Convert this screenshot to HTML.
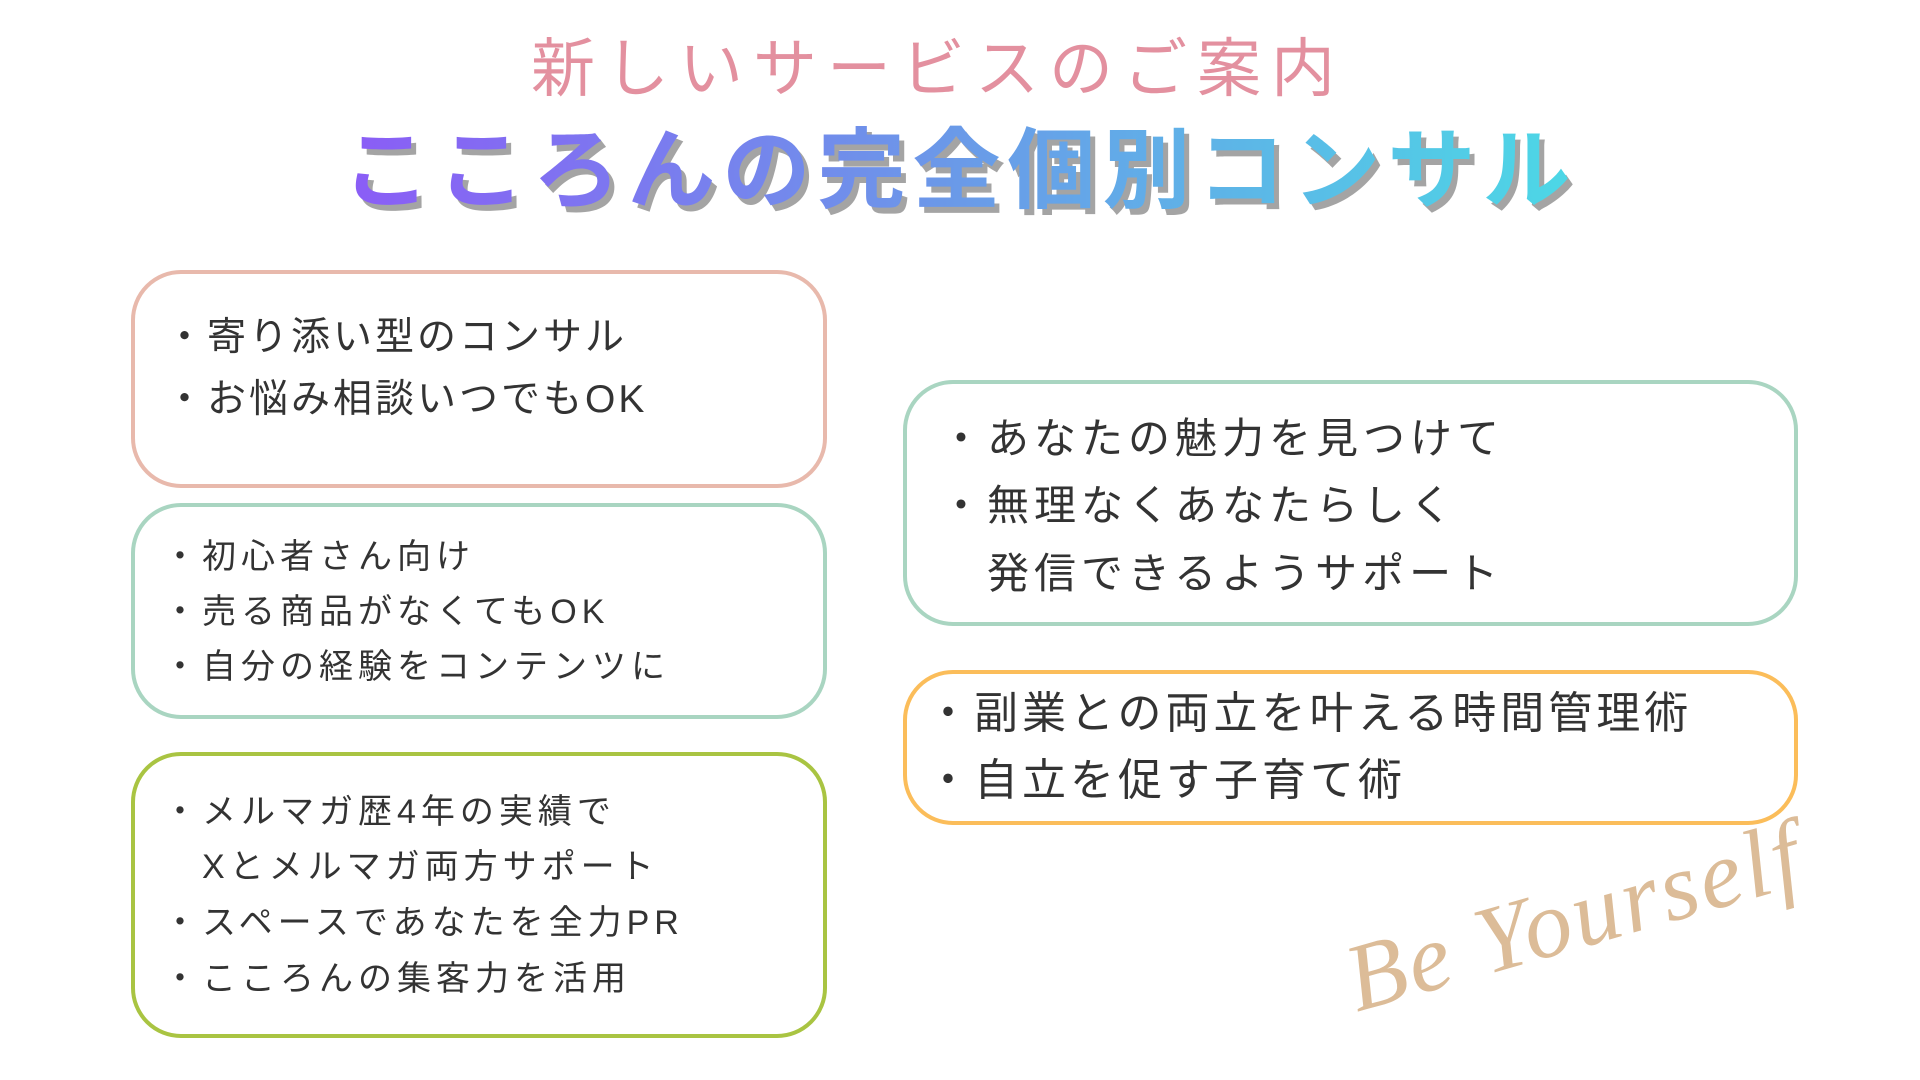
<!DOCTYPE html>
<html><head><meta charset="utf-8"><style>
body{margin:0;width:1920px;height:1080px;background:#fff;position:relative;overflow:hidden;font-family:"Liberation Sans","Noto Sans CJK JP",sans-serif;color:#333}
.t{position:absolute;white-space:nowrap;line-height:1}
.box{position:absolute;box-sizing:border-box;border:4px solid;border-radius:50px}
.l{position:absolute;white-space:nowrap;line-height:1;letter-spacing:5px}
</style></head><body>
<div class="t" style="left:-22px;width:1920px;top:37px;text-align:center;font-size:64px;color:#e3909f;letter-spacing:10px">新しいサービスのご案内</div>
<div class="t" style="left:0;width:1920px;top:127px;text-align:center;font-size:88px;font-weight:bold;letter-spacing:7px;">
<span style="background:linear-gradient(90deg,#8b5cf6,#6a9ae8 50%,#4cd8e6);-webkit-background-clip:text;background-clip:text;color:transparent;filter:drop-shadow(5px 6px 0 rgba(90,90,90,0.55))">こころんの完全個別コンサル</span></div>

<div class="box" style="left:131px;top:270px;width:696px;height:218px;border-color:#e8b9ac"></div>
<div class="box" style="left:131px;top:503px;width:696px;height:216px;border-color:#a9d5c1"></div>
<div class="box" style="left:131px;top:752px;width:696px;height:286px;border-color:#a9c442"></div>
<div class="box" style="left:903px;top:380px;width:895px;height:246px;border-color:#a9d5c1"></div>
<div class="box" style="left:903px;top:670px;width:895px;height:155px;border-color:#fbbd5a"></div>

<div class="l" style="left:165px;top:318px;font-size:39px;letter-spacing:3px">・寄り添い型のコンサル</div>
<div class="l" style="left:165px;top:380px;font-size:39px;letter-spacing:3px">・お悩み相談いつでもOK</div>

<div class="l" style="left:163px;top:540px;font-size:34px">・初心者さん向け</div>
<div class="l" style="left:163px;top:595px;font-size:34px">・売る商品がなくてもOK</div>
<div class="l" style="left:163px;top:650px;font-size:34px">・自分の経験をコンテンツに</div>

<div class="l" style="left:163px;top:795px;font-size:34px">・メルマガ歴4年の実績で</div>
<div class="l" style="left:163px;top:850px;font-size:34px">　Xとメルマガ両方サポート</div>
<div class="l" style="left:163px;top:906px;font-size:34px">・スペースであなたを全力PR</div>
<div class="l" style="left:163px;top:962px;font-size:34px">・こころんの集客力を活用</div>

<div class="l" style="left:940px;top:418px;font-size:42px">・あなたの魅力を見つけて</div>
<div class="l" style="left:940px;top:485px;font-size:42px">・無理なくあなたらしく</div>
<div class="l" style="left:940px;top:553px;font-size:42px">　発信できるようサポート</div>

<div class="l" style="left:926px;top:692px;font-size:44px;letter-spacing:4px">・副業との両立を叶える時間管理術</div>
<div class="l" style="left:926px;top:759px;font-size:44px;letter-spacing:4px">・自立を促す子育て術</div>

<div class="t" style="left:1335px;top:935px;font-family:'Liberation Serif',serif;font-style:italic;font-size:96px;color:#dcbc98;transform:rotate(-16deg);transform-origin:left top;letter-spacing:3px">Be Yourself</div>
</body></html>
